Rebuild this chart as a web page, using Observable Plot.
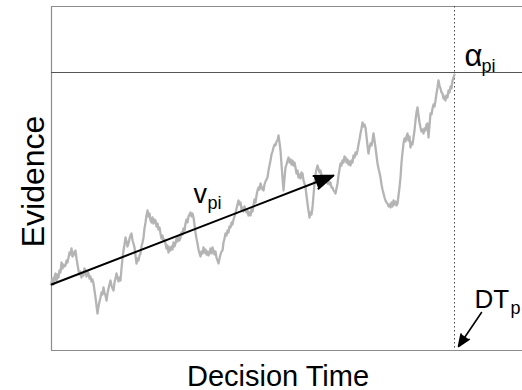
<!DOCTYPE html>
<html>
<head>
<meta charset="utf-8">
<script src="https://cdn.jsdelivr.net/npm/d3@7"></script>
<script src="https://cdn.jsdelivr.net/npm/@observablehq/plot@0.6"></script>
<style>
  html, body { margin: 0; padding: 0; background: #fff; }
</style>
</head>
<body>
<div id="chart"></div>
<script>
// Evidence trace, one sample per time unit
const evidence = [
  68,72,66,74,77,70,76,73,80,78,
  88,82,86,84,85,90,88,93,98,96,
  102,94,95,99,100,92,86,80,76,79,
  73,77,75,82,80,74,79,77,72,74,
  69,71,67,60,53,45,37,44,49,53,
  58,56,63,58,55,50,57,62,66,70,
  65,62,60,68,72,77,73,69,73,70,
  82,92,100,106,113,109,104,107,112,115,
  117,110,107,103,95,87,92,90,95,97,
  104,108,113,122,128,135,140,134,137,130,
  128,133,127,131,130,124,127,121,123,117,
  112,115,110,111,107,102,105,98,103,100,
  104,101,108,104,107,112,109,114,110,113,
  118,116,122,120,127,131,128,134,136,138,
  134,137,133,126,118,112,107,101,97,94,
  99,97,103,98,101,96,99,95,98,102,
  97,103,100,96,99,93,90,87,92,96,
  99,100,108,112,117,115,120,118,124,123,
  128,126,131,134,137,142,146,150,146,148,
  141,143,139,144,141,138,140,135,138,135,
  141,139,145,151,148,155,160,163,161,167,
  164,161,160,166,169,171,173,180,185,190,
  196,199,203,206,205,209,210,215,208,200,
  186,173,160,172,183,186,190,193,188,191,
  186,190,185,188,183,177,180,173,176,172,
  178,177,170,167,163,155,147,140,133,138,
  136,143,155,167,176,181,185,182,178,180,
  175,170,167,172,169,173,167,170,166,168,
  163,163,160,159,157,162,167,175,181,187,
  185,190,188,194,193,188,191,186,189,185,
  190,188,195,193,198,196,200,206,211,217,
  222,228,224,226,223,214,205,197,203,207,
  205,210,217,210,203,195,187,182,178,173,
  166,161,157,153,150,148,147,144,146,143,
  148,144,150,146,149,145,147,155,163,173,
  188,198,207,212,209,214,217,210,214,203,
  208,206,213,220,230,238,243,235,228,223,
  219,221,217,222,220,226,227,213,225,237,
  236,242,246,244,250,257,263,270,265,262,
  258,257,252,254,250,255,253,260,258,264,
  262,270,273,276
];
const timeStep = 1;
const timeMax = 471;
const evidenceMax = 344;
const threshold = 278;      // alpha_pi
const decisionTime = 403;   // DT_p

// drift-rate arrow (v_pi)
const driftT = [0, 282];
const driftE = [66, 175];
// DT pointer arrow
const dtT = [430, 407];
const dtE = [38, 4];

// annotation labels
const labelMain = ["v", "α", "DT"];
const labelSub = ["pi", "pi", "p"];
const labelT = [142, 413, 423];
const labelE = [148, 285, 43];

const series = evidence.map((e, i) => ({t: i * timeStep, e}));
const font = "'Liberation Sans', Arial, Helvetica, sans-serif";

const mainSizes = [27, 31, 26];
const subDx = [14, 17, 36];

const labelMarks = [];
labelMain.forEach((txt, i) => {
  labelMarks.push(Plot.text([i], {
    x: j => labelT[j], y: j => labelE[j], text: j => labelMain[j],
    textAnchor: "start", lineAnchor: "bottom",
    fontSize: mainSizes[i], fill: "#000"
  }));
  labelMarks.push(Plot.text([i], {
    x: j => labelT[j], y: j => labelE[j], text: j => labelSub[j],
    textAnchor: "start", lineAnchor: "bottom",
    dx: subDx[i], dy: 6, fontSize: 18, fill: "#000"
  }));
});

const chart = Plot.plot({
  width: 522,
  height: 390,
  marginLeft: 51,
  marginRight: 0,
  marginTop: 6,
  marginBottom: 40,
  x: {domain: [0, timeMax], axis: null},
  y: {domain: [0, evidenceMax], axis: null},
  style: {fontFamily: font, background: "#fff", color: "#000"},
  marks: [
    Plot.ruleY([0, evidenceMax], {stroke: "#8c8c8c", strokeWidth: 1.2}),
    Plot.ruleX([0], {stroke: "#8c8c8c", strokeWidth: 1.2}),
    Plot.ruleY([threshold], {stroke: "#555", strokeWidth: 1.2}),
    Plot.ruleX([decisionTime], {stroke: "#444", strokeWidth: 1, strokeDasharray: "1.5,2.5"}),
    Plot.line(series, {x: "t", y: "e", stroke: "#b4b4b4", strokeWidth: 2.3, strokeLinejoin: "round"}),
    Plot.arrow([0], {
      x1: () => driftT[0], y1: () => driftE[0], x2: () => driftT[1], y2: () => driftE[1],
      stroke: "#000", fill: "#000", strokeWidth: 2, headLength: 15, headAngle: 40
    }),
    Plot.arrow([0], {
      x1: () => dtT[0], y1: () => dtE[0], x2: () => dtT[1], y2: () => dtE[1],
      stroke: "#000", fill: "#000", strokeWidth: 1.6, headLength: 12, headAngle: 45
    }),
    ...labelMarks,
    // axis titles
    Plot.text(["Evidence"], {
      frameAnchor: "left", text: d => d, rotate: -90,
      textAnchor: "middle", lineAnchor: "bottom",
      dx: -8, dy: 3, fontSize: 32, fill: "#000"
    }),
    Plot.text(["Decision Time"], {
      frameAnchor: "bottom", text: d => d,
      textAnchor: "middle", lineAnchor: "bottom",
      dx: -9, dy: 35, fontSize: 29, fill: "#000"
    })
  ]
});
document.getElementById("chart").appendChild(chart);
</script>
</body>
</html>
